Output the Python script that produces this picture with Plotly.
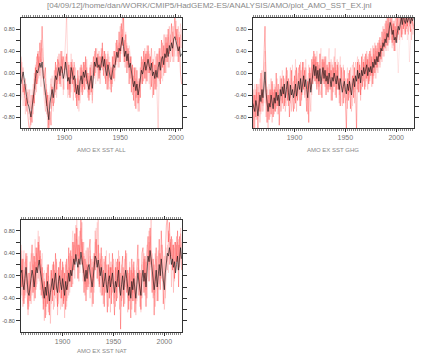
import plotly.graph_objects as go

# ---------------- data ----------------
years_all = list(range(1861, 2006))   # 145 values
years_ext = list(range(1859, 2018))   # 159 values

all_mean = [
 -0.20, -0.05, 0.02, -0.12, -0.30, -0.42, -0.55, -0.60, -0.72, -0.80,
 -0.62, -0.50, -0.30, -0.10, 0.05, 0.00, 0.12, 0.18, 0.10, 0.20,
 -0.05, -0.22, -0.35, -0.45, -0.70, -0.85, -0.55, -0.40, -0.30, -0.45,
 -0.20, -0.05, -0.12, 0.02, 0.10, -0.05, 0.12, 0.05, -0.10, 0.00,
 0.20, 0.05, -0.15, -0.08, -0.20, 0.10, 0.02, -0.12, -0.05, -0.25,
 -0.38, -0.22, -0.40, -0.15, -0.05, -0.20, 0.02, -0.08, 0.05, -0.10,
 -0.22, -0.30, -0.15, -0.05, -0.28, 0.05, 0.20, 0.12, 0.28, 0.10,
 0.15, 0.05, 0.22, 0.30, 0.12, 0.25, 0.05, -0.05, 0.15, 0.00,
 -0.08, -0.12, 0.05, 0.15, 0.10, 0.30, 0.38, 0.28, 0.45, 0.40,
 0.55, 0.65, 0.48, 0.30, 0.40, 0.22, 0.35, 0.10, 0.18, 0.05,
 -0.10, -0.25, -0.15, -0.32, -0.20, -0.40, -0.28, -0.10, 0.05, -0.02,
 0.10, 0.20, 0.05, 0.15, 0.25, 0.12, 0.05, 0.18, -0.05, 0.02,
 -0.10, 0.05, -0.08, 0.10, 0.20, 0.05, 0.25, 0.30, 0.15, 0.35,
 0.28, 0.45, 0.30, 0.50, 0.40, 0.55, 0.45, 0.62, 0.66, 0.58,
 0.50, 0.40, 0.48, 0.30, 0.35]

all_m1 = [
 0.30, -0.10, -0.35, -0.20, -0.60, -0.45, -0.80, -0.95, -1.05, -0.70,
 -0.90, -0.40, -0.55, 0.10, -0.20, 0.35, 0.10, 0.55, 0.20, 0.85,
 0.30, -0.10, 0.10, -0.60, -0.40, -1.10, -0.70, -0.95, -0.25, -0.60,
 -0.40, 0.20, -0.30, 0.25, 0.15, -0.20, 0.40, 0.00, 0.30, 0.05,
 0.10, 0.35, -0.30, 0.15, -0.45, 0.20, -0.20, 0.10, -0.35, -0.10,
 -0.60, 0.05, -0.50, -0.25, 0.15, -0.40, 0.20, -0.30, 0.30, -0.20,
 0.00, -0.50, 0.10, -0.35, -0.10, 0.30, -0.05, 0.45, 0.10, 0.35,
 -0.10, 0.30, 0.10, 0.55, -0.05, 0.40, -0.20, 0.25, -0.30, 0.20,
 0.10, -0.35, 0.30, -0.10, 0.40, 0.15, 0.60, 0.30, 0.75, 0.20,
 0.90, 0.50, 1.05, 0.20, 0.70, 0.00, 0.45, -0.20, 0.30, -0.35,
 0.15, -0.50, 0.10, -0.65, 0.05, -0.55, -0.10, -0.45, 0.30, -0.20,
 0.40, -0.10, 0.35, -0.15, 0.50, 0.00, 0.30, -0.25, 0.20, -0.40,
 0.15, -0.30, 0.35, -0.10, 0.45, -0.20, 0.60, 0.10, 0.50, 0.00,
 0.65, 0.20, 0.80, 0.35, 0.55, 0.90, 0.30, 0.75, 1.05, 0.60,
 0.80, 0.20, 0.65, 0.00, -0.20]

all_m2 = [
 -0.50, -0.30, 0.10, -0.40, -0.10, -0.70, -0.35, -0.55, -0.30, -0.95,
 -0.40, -0.75, 0.00, -0.30, 0.30, -0.20, 0.40, -0.05, 0.60, 0.10,
 -0.20, -0.50, -0.70, -0.30, -1.05, -0.60, -0.35, -0.10, -0.55, -0.15,
 0.05, -0.35, 0.10, -0.20, 0.35, 0.05, -0.25, 0.30, -0.30, 0.15,
 0.60, 1.05, 0.10, -0.40, 0.05, -0.10, 0.25, -0.50, 0.20, -0.45,
 -0.20, -0.65, -0.15, 0.10, -0.35, 0.05, -0.25, 0.20, -0.15, 0.10,
 -0.45, -0.05, -0.40, 0.20, -0.55, -0.10, 0.40, 0.00, 0.25, -0.15,
 0.40, -0.20, 0.45, 0.05, 0.30, 0.10, 0.35, -0.30, 0.35, -0.25,
 -0.30, 0.10, -0.20, 0.40, -0.10, 0.55, 0.20, 0.45, 0.10, 0.85,
 0.40, 1.05, 0.30, 0.60, 0.10, 0.50, 0.15, 0.40, -0.10, 0.30,
 -0.40, -0.05, -0.60, 0.10, -0.45, -0.15, -0.70, 0.10, -0.20, 0.25,
 -0.15, 0.45, -0.20, 0.40, 0.00, 0.35, -0.30, 0.45, -0.45, 0.25,
 -0.30, 0.30, -0.40, -1.05, 0.00, 0.30, -0.10, 0.55, -0.05, 0.70,
 0.00, 0.70, 0.10, 0.85, 0.20, 0.40, 0.75, 0.20, 0.50, 0.95,
 0.30, 0.85, 0.40, 0.70, 0.45]

all_m3 = [
 0.10, -0.40, -0.60, -0.25, -0.75, -0.20, -0.60, -0.30, -0.85, -0.40,
 -0.65, -0.20, -0.60, 0.15, -0.35, 0.40, -0.10, 0.30, -0.25, 0.45,
 0.10, -0.40, -0.10, -0.75, -0.35, -0.95, -0.45, -0.65, -0.05, -0.40,
 -0.55, 0.10, -0.45, 0.30, -0.15, 0.35, -0.10, 0.40, -0.40, 0.20,
 -0.10, 0.30, -0.45, 0.20, -0.30, 0.35, -0.05, 0.20, -0.35, 0.10,
 -0.50, -0.10, -0.70, -0.40, 0.10, -0.30, -0.15, 0.15, -0.30, 0.25,
 -0.10, -0.40, 0.15, -0.25, -0.50, 0.20, -0.10, 0.30, 0.45, 0.05,
 0.30, 0.00, 0.10, 0.45, 0.20, -0.10, 0.30, 0.10, 0.40, -0.15,
 0.20, -0.20, 0.15, 0.30, -0.15, 0.40, 0.60, 0.10, 0.55, 0.35,
 0.70, 0.40, 0.20, 0.55, 0.75, 0.30, 0.10, 0.50, 0.35, -0.10,
 -0.20, 0.10, -0.35, -0.10, -0.55, -0.70, -0.40, -0.20, -0.05, 0.20,
 0.00, 0.30, -0.10, 0.50, 0.10, -0.20, 0.25, 0.45, 0.10, 0.30,
 0.40, -0.10, 0.20, 0.35, -0.15, 0.45, 0.05, 0.40, 0.70, 0.20,
 0.55, 0.30, 0.65, 0.10, 0.70, 0.45, 0.85, 0.50, 0.30, 0.80,
 0.55, 0.70, 0.20, 0.90, 0.60]

all_m4 = [
 -0.30, 0.20, -0.10, -0.45, -0.20, -0.60, -0.30, -0.75, -0.50, -0.65,
 -0.30, -0.55, -0.10, -0.40, 0.20, -0.15, 0.30, 0.00, 0.25, -0.10,
 0.05, -0.30, -0.55, -0.20, -0.80, -0.40, -0.65, -0.20, -0.45, -0.70,
 -0.10, -0.40, 0.15, -0.30, 0.20, -0.25, 0.05, 0.25, -0.15, -0.30,
 0.30, -0.05, 0.20, -0.30, 0.10, -0.35, 0.15, -0.25, 0.15, -0.40,
 -0.25, -0.45, -0.05, -0.55, -0.20, 0.10, -0.35, -0.05, 0.20, -0.30,
 -0.35, 0.00, -0.25, 0.15, -0.40, -0.15, 0.35, -0.20, 0.10, 0.30,
 -0.05, 0.25, 0.35, 0.10, 0.40, 0.15, -0.15, 0.20, -0.10, 0.30,
 -0.20, 0.05, -0.25, 0.20, 0.35, 0.05, 0.25, 0.50, 0.20, 0.45,
 0.35, 0.80, 0.45, 0.10, 0.30, 0.55, 0.40, 0.05, 0.25, 0.15,
 -0.05, -0.30, 0.05, -0.45, -0.30, -0.20, -0.50, 0.05, 0.20, -0.15,
 0.25, 0.05, 0.40, 0.20, 0.35, 0.40, -0.05, 0.10, 0.25, -0.10,
 -0.20, 0.15, -0.25, 0.25, 0.40, 0.10, 0.30, -0.15, 0.25, 0.45,
 0.30, 0.55, 0.20, 0.40, 0.60, 0.35, 0.20, 0.85, 0.65, 0.40,
 0.65, 0.35, 0.75, 0.45, 0.80]

ghg_mean = [
 -0.55, -0.62, -0.70, -0.50, -0.60, -0.78, -0.55, -0.40, -0.52, -0.30,
 -0.45, -0.10, 0.02, -0.35, -0.60, -0.70, -0.55, -0.62, -0.40, -0.58,
 -0.65, -0.45, -0.55, -0.35, -0.50, -0.40, -0.60, -0.30, -0.42, -0.25,
 -0.38, -0.20, -0.45, -0.30, -0.15, -0.35, -0.50, -0.22, -0.40, -0.30,
 -0.45, -0.35, -0.20, -0.42, -0.28, -0.15, -0.30, -0.10, -0.35, -0.20,
 -0.05, -0.25, -0.12, -0.30, -0.45, -0.20, -0.10, -0.35, -0.15, 0.05,
 0.15, -0.05, 0.12, -0.10, 0.05, -0.15, 0.08, -0.20, -0.05, 0.10,
 -0.10, 0.05, -0.15, -0.05, -0.20, 0.00, -0.12, -0.25, -0.08, -0.15,
 0.00, -0.10, -0.20, -0.05, -0.15, -0.30, -0.10, -0.20, -0.35, -0.25,
 -0.15, -0.30, -0.38, -0.20, -0.32, -0.15, -0.25, -0.40, -0.22, -0.10,
 -0.25, -0.05, -0.15, 0.05, -0.10, 0.00, -0.18, 0.05, -0.05, 0.10,
 -0.02, 0.05, 0.15, -0.05, 0.10, 0.02, 0.12, 0.00, 0.20, 0.10,
 0.25, 0.15, 0.30, 0.20, 0.38, 0.30, 0.45, 0.40, 0.55, 0.48,
 0.62, 0.55, 0.72, 0.65, 0.80, 0.92, 0.85, 0.70, 0.78, 0.60,
 0.65, 0.55, 0.72, 0.85, 0.78, 0.92, 1.00, 0.88, 1.05, 0.95,
 0.90, 1.02, 0.92, 0.98, 1.05, 0.90, 1.00, 0.95, 1.02]

ghg_m1 = [
 -0.30, -1.05, -0.40, -0.80, -0.20, -1.05, -0.35, -0.70, 0.00, -0.55,
 -0.20, 0.20, 0.85, -0.10, -0.90, -0.40, -0.85, -0.30, -0.75, -0.15,
 -0.80, -0.30, -0.70, 0.00, -0.60, -0.20, -0.95, -0.40, -0.10, -0.55,
 -0.05, -0.60, -0.20, 0.10, -0.50, -0.10, -0.80, -0.30, 0.05, -0.45,
 -0.70, -0.05, -0.55, 0.10, -0.50, -0.20, 0.15, -0.60, -0.35, 0.20,
 -0.30, 0.05, -0.45, -0.70, -0.15, -0.90, 0.10, -0.30, 0.25, -0.20,
 0.40, -0.15, 0.30, -0.30, 0.20, -0.40, 0.35, -0.10, -0.45, 0.25,
 -0.20, 0.30, -0.40, 0.15, -0.35, 0.20, -0.30, 0.05, -0.50, 0.10,
 -0.25, 0.20, -0.45, 0.15, -0.30, -0.10, -0.60, 0.10, -0.20, -0.55,
 0.05, -0.40, -1.05, -0.10, -0.50, 0.05, -0.65, -0.20, -0.05, -0.45,
 0.10, -0.30, -1.05, 0.20, -0.35, 0.15, -0.40, 0.30, -0.25, 0.20,
 -0.30, 0.35, -0.10, 0.25, -0.20, 0.40, -0.05, 0.30, -0.20, 0.45,
 0.00, 0.50, 0.10, 0.55, 0.20, 0.65, 0.25, 0.75, 0.40, 0.80,
 0.45, 0.95, 0.50, 1.05, 0.60, 0.85, 1.05, 0.55, 0.90, 0.40,
 0.85, 0.60, 1.05, 0.70, 0.95, 1.05, 0.65, 1.05, 0.80, 1.05,
 0.70, 1.05, 0.85, 1.05, 0.95, 0.75, 1.05, 0.90, 0.80]

ghg_m2 = [
 -0.80, -0.40, -1.00, -0.30, -0.85, -0.45, -0.20, -0.90, -0.60, 0.05,
 -0.70, -0.35, -0.15, -0.80, -0.30, -1.00, -0.40, -0.65, -0.10, -0.90,
 -0.35, -0.75, -0.25, -0.65, -0.30, -0.75, -0.25, -0.05, -0.70, -0.30,
 -0.65, -0.10, -0.70, -0.40, 0.05, -0.60, -0.30, 0.10, -0.70, -0.20,
 -0.15, -0.65, 0.05, -0.70, -0.10, 0.10, -0.60, 0.20, -0.50, -0.05,
 0.20, -0.45, 0.10, -0.20, -0.75, 0.00, -0.35, -0.70, -0.05, 0.30,
 -0.10, 0.35, -0.15, 0.20, -0.20, 0.15, -0.30, -0.40, 0.25, -0.15,
 0.20, -0.25, 0.05, -0.30, 0.10, -0.25, 0.20, -0.50, 0.15, -0.35,
 0.30, -0.40, 0.05, -0.30, 0.20, -0.55, 0.15, -0.45, -0.60, 0.10,
 -0.45, -0.10, -0.20, -0.65, 0.00, -0.35, 0.10, -0.70, -0.40, 0.20,
 -0.55, 0.20, 0.05, -0.30, 0.25, -0.20, -0.50, 0.10, 0.35, -0.15,
 0.30, -0.25, 0.40, -0.30, 0.35, -0.15, 0.45, -0.25, 0.50, -0.05,
 0.55, -0.10, 0.45, 0.00, 0.60, 0.10, 0.50, 0.20, 0.85, 0.30,
 0.90, 0.40, 1.00, 0.50, 1.05, 0.70, 0.60, 1.05, 0.50, 0.95,
 0.40, 1.00, 0.55, 1.05, 0.60, 0.90, 1.05, 0.70, 1.05, 0.85,
 1.05, 0.80, 1.05, 0.70, 1.05, 0.95, 0.60, 1.05, 0.85]

ghg_m3 = [
 -0.40, -0.70, -0.20, -0.60, -0.35, -0.50, -0.80, -0.10, -0.45, -0.70,
 -0.30, -0.55, 0.40, -0.20, -0.45, -0.60, -0.20, -0.80, -0.50, -0.30,
 -0.55, -0.20, -0.70, -0.40, -0.10, -0.60, -0.45, -0.70, -0.25, 0.05,
 -0.40, -0.25, -0.55, -0.05, -0.35, -0.60, -0.15, -0.45, -0.25, 0.15,
 -0.40, -0.20, 0.25, -0.45, -0.30, 0.00, -0.20, 0.05, -0.40, 0.10,
 -0.15, -0.40, 0.25, 0.00, -0.30, 0.15, -0.20, 0.00, -0.40, 0.20,
 0.05, 0.25, -0.20, 0.40, 0.00, -0.25, 0.20, 0.45, -0.10, 0.30,
 0.05, -0.20, 0.30, -0.15, 0.20, 0.45, -0.05, 0.25, 0.05, -0.25,
 0.20, 0.45, -0.10, 0.25, -0.20, 0.05, 0.30, -0.15, -0.05, 0.15,
 -0.20, -0.55, -0.20, 0.10, -0.40, -0.15, -0.35, 0.05, 0.15, -0.30,
 -0.05, -0.25, 0.10, 0.30, -0.20, 0.20, 0.00, -0.30, 0.10, 0.25,
 0.00, 0.20, -0.15, 0.30, 0.15, -0.10, 0.35, 0.15, -0.05, 0.35,
 0.15, 0.40, 0.35, 0.10, 0.45, 0.55, 0.35, 0.60, 0.45, 0.70,
 0.75, 0.60, 0.85, 0.90, 0.55, 1.05, 0.75, 0.45, 0.95, 0.70,
 1.00, 0.75, 0.65, 0.95, 1.05, 0.80, 0.95, 1.05, 0.90, 0.70,
 0.95, 1.05, 0.75, 1.05, 0.85, 1.05, 0.90, 1.05, 0.70]

ghg_m4 = [
 -0.60, -0.30, -0.55, -0.85, -0.45, -0.25, -0.65, -0.40, -0.75, -0.35,
 -0.60, -0.20, 0.20, -0.55, -0.25, -0.50, -0.70, -0.35, -0.60, -0.20,
 -0.45, -0.60, -0.30, -0.50, -0.75, -0.35, -0.55, -0.25, -0.50, -0.35,
 -0.20, -0.45, -0.35, -0.60, -0.25, -0.40, -0.20, -0.55, -0.10, -0.35,
 -0.25, -0.50, -0.30, -0.10, -0.40, -0.25, -0.50, -0.15, 0.05, -0.40,
 -0.25, 0.10, -0.20, -0.50, -0.10, -0.35, 0.05, -0.20, 0.10, -0.10,
 0.25, 0.00, 0.20, -0.25, 0.10, 0.00, -0.20, 0.10, 0.20, -0.05,
 0.15, 0.25, -0.05, 0.10, -0.30, -0.05, 0.15, -0.10, 0.20, 0.00,
 -0.10, 0.10, -0.30, -0.15, 0.10, -0.40, -0.20, 0.05, -0.30, -0.10,
 -0.35, -0.20, -0.50, -0.30, -0.10, -0.45, -0.20, -0.35, -0.60, -0.05,
 -0.35, -0.10, -0.30, 0.00, -0.15, -0.35, 0.10, -0.10, 0.20, 0.00,
 0.15, -0.10, 0.25, 0.05, -0.20, 0.20, 0.00, 0.25, 0.10, -0.10,
 0.30, 0.20, 0.05, 0.40, 0.25, 0.15, 0.50, 0.35, 0.30, 0.60,
 0.50, 0.70, 0.60, 0.40, 0.85, 0.70, 0.95, 0.80, 0.65, 0.90,
 0.55, 0.80, 0.30, 0.00, 0.45, 0.70, 0.85, 0.60, 0.95, 0.80,
 0.75, 0.95, 0.60, 0.85, 0.20, 0.55, 0.80, 0.70, 0.90]

nat_mean = [
 0.05, 0.10, -0.15, -0.25, -0.05, 0.15, -0.05, -0.30, -0.35, -0.15,
 -0.05, 0.10, 0.00, -0.20, -0.05, 0.15, 0.05, 0.20, 0.28, 0.10,
 -0.05, -0.15, -0.30, -0.40, -0.20, -0.35, -0.10, -0.25, -0.45, -0.30,
 -0.15, -0.05, -0.25, -0.10, 0.05, -0.20, -0.30, -0.10, 0.00, -0.15,
 -0.25, -0.05, -0.20, -0.35, -0.10, -0.25, -0.15, 0.05, -0.10, 0.10,
 0.00, 0.15, 0.30, 0.20, 0.38, 0.25, 0.15, 0.30, 0.20, 0.42,
 0.30, 0.15, 0.00, -0.10, 0.10, -0.05, 0.15, 0.20, 0.05, -0.10,
 -0.20, -0.05, 0.10, 0.35, 0.30, 0.15, 0.28, 0.10, 0.00, 0.15,
 -0.05, -0.20, -0.10, 0.05, -0.15, -0.30, -0.10, 0.00, -0.20, -0.10,
 0.05, -0.15, -0.30, -0.10, -0.20, -0.05, 0.10, -0.20, -0.35, -0.15,
 0.00, -0.25, -0.10, 0.10, -0.05, -0.25, -0.35, -0.20, -0.40, -0.10,
 -0.25, -0.05, -0.30, -0.40, -0.15, 0.05, -0.10, -0.25, -0.35, -0.05,
 0.10, -0.10, 0.05, -0.20, 0.15, 0.35, 0.25, 0.45, 0.30, 0.10,
 -0.05, -0.25, -0.10, 0.10, -0.20, 0.05, 0.20, 0.00, 0.30, 0.10,
 -0.15, -0.25, 0.05, 0.20, 0.40, 0.35, 0.50, 0.38, 0.20, 0.30,
 0.15, 0.25, 0.05, 0.20, 0.35, 0.10, 0.40, 0.50, 0.30]

nat_m1 = [
 0.55, -0.20, 0.30, -0.50, 0.10, 0.40, -0.30, -0.60, 0.05, -0.45,
 0.20, 0.55, -0.30, 0.35, -0.40, 0.50, 0.10, 0.60, 0.20, 0.45,
 -0.35, 0.15, -0.60, -0.10, -0.75, 0.05, -0.50, 0.20, -0.70, -0.25,
 0.10, -0.45, 0.25, -0.35, 0.40, -0.20, -0.55, 0.15, -0.30, 0.30,
 -0.40, 0.25, -0.50, 0.05, -0.60, 0.30, -0.25, 0.50, -0.10, 0.45,
 -0.20, 0.60, 0.10, 0.75, 0.25, 0.85, -0.05, 0.55, 0.30, 1.05,
 0.20, 0.60, -0.30, 0.30, -0.45, 0.20, -0.20, 0.45, 0.65, -0.30,
 0.15, -0.50, 0.40, 0.10, 0.65, -0.05, 0.55, -0.20, 0.35, 0.50,
 -0.35, 0.10, -0.55, 0.35, -0.10, -0.65, 0.20, -0.40, 0.15, -0.50,
 0.40, -0.25, -0.70, 0.15, -0.45, 0.30, -0.20, 0.25, -0.95, 0.10,
 0.35, -0.55, 0.20, 0.45, -0.30, 0.10, -0.60, 0.15, -0.75, 0.30,
 -0.45, 0.25, -0.65, -0.20, 0.30, 0.55, -0.35, 0.10, -0.60, 0.40,
 0.50, -0.30, 0.35, -0.55, 0.40, 0.70, -0.10, 0.85, 0.25, -0.30,
 0.30, -0.70, 0.15, 0.50, -0.45, 0.35, 0.65, -0.25, 0.80, 0.30,
 -0.50, -0.10, 0.55, 0.90, 1.05, 0.60, 0.95, 0.30, 0.70, 0.10,
 0.55, -0.05, 0.60, 0.25, 0.80, -0.20, 0.70, 0.40, 0.10]

nat_m2 = [
 -0.40, 0.30, -0.55, 0.10, -0.35, -0.10, 0.35, -0.70, -0.20, 0.25,
 -0.50, -0.10, 0.40, -0.45, 0.25, -0.20, 0.50, -0.05, 0.70, -0.25,
 0.30, -0.40, 0.05, -0.80, -0.20, -0.55, 0.20, -0.65, -0.15, -0.85,
 -0.35, 0.20, -0.60, 0.10, -0.25, 0.30, -0.70, -0.20, 0.25, -0.40,
 0.10, -0.55, 0.15, -0.75, 0.20, -0.45, 0.10, -0.35, 0.40, -0.20,
 0.35, -0.15, 0.60, -0.05, 0.90, 0.30, 0.55, -0.10, 0.80, 0.40,
 0.95, 0.05, 0.35, -0.35, 0.45, -0.25, 0.50, -0.05, -0.40, 0.30,
 -0.55, 0.25, -0.20, 0.80, 0.20, 0.45, 1.05, -0.15, 0.30, -0.35,
 0.35, -0.50, 0.25, -0.30, 0.20, -0.05, -0.55, 0.40, -0.65, 0.15,
 -0.30, 0.30, 0.00, -0.55, 0.25, -0.40, 0.45, -0.60, 0.05, -0.45,
 -0.25, 0.15, -0.50, -0.15, 0.40, -0.65, 0.05, -0.45, 0.10, -0.60,
 0.05, -0.45, 0.10, -0.70, -0.35, -0.10, 0.30, -0.55, 0.05, -0.40,
 -0.20, 0.30, -0.35, 0.25, -0.40, 0.10, 0.80, 0.20, 1.05, -0.10,
 -0.40, 0.20, -0.55, -0.05, 0.35, -0.45, -0.10, 0.40, -0.05, 0.55,
 0.20, -0.60, -0.30, 0.35, 0.10, 0.80, 0.20, 0.65, -0.20, 0.55,
 -0.30, 0.60, 0.10, 0.70, 0.25, 0.55, 0.15, 0.75, 0.50]

nat_m3 = [
 0.20, -0.35, 0.10, 0.45, -0.40, 0.30, -0.15, 0.05, -0.55, 0.15,
 0.40, -0.30, 0.20, -0.15, 0.65, -0.25, 0.30, 0.80, -0.10, 0.35,
 0.00, 0.40, -0.35, -0.05, -0.55, -0.20, 0.15, -0.40, -0.60, 0.10,
 -0.50, -0.15, 0.20, -0.55, -0.10, 0.25, -0.45, 0.05, -0.30, -0.60,
 -0.20, 0.15, -0.45, -0.20, 0.25, -0.55, 0.05, 0.35, -0.30, 0.05,
 0.25, 0.80, 0.45, 0.15, 0.60, 1.05, 0.35, 0.70, 0.05, 0.50,
 0.65, -0.10, 0.40, 0.25, -0.20, 0.50, 0.10, -0.15, 0.35, 0.15,
 0.30, 0.00, -0.30, 0.50, 0.85, 0.25, -0.10, 0.40, -0.30, 0.20,
 0.10, 0.30, -0.35, -0.15, 0.45, -0.20, 0.10, -0.30, 0.25, -0.35,
 0.20, -0.50, 0.10, 0.30, -0.30, 0.15, -0.10, 0.35, -0.25, -0.55,
 0.15, -0.35, 0.30, -0.20, 0.05, -0.40, -0.15, 0.25, -0.35, 0.10,
 -0.30, 0.15, -0.20, -0.50, 0.05, 0.30, 0.10, -0.35, -0.65, 0.20,
 -0.10, 0.40, -0.15, -0.05, 0.55, 0.25, 0.60, 0.10, 0.45, 0.35,
 0.15, -0.35, 0.40, -0.20, 0.10, 0.45, -0.15, 0.30, 0.55, -0.10,
 0.05, 0.35, -0.40, 0.15, 0.55, 0.05, 0.75, 0.50, 0.35, 0.65,
 0.40, -0.10, 0.35, 0.55, 0.10, 0.65, 0.30, 0.85, 0.20]

nat_m4 = [
 -0.20, 0.45, -0.45, -0.10, 0.25, -0.30, 0.40, -0.50, -0.10, -0.40,
 0.10, -0.35, -0.05, 0.35, -0.25, 0.40, -0.15, 0.25, 0.55, 0.05,
 0.20, -0.25, -0.50, 0.10, -0.30, -0.70, -0.35, 0.00, -0.45, -0.20,
 0.05, -0.30, -0.15, 0.20, -0.40, -0.05, 0.10, -0.50, 0.15, -0.20,
 -0.55, -0.10, 0.20, -0.40, -0.15, 0.00, -0.40, 0.15, -0.20, 0.30,
 0.10, 0.35, 0.55, 0.40, 0.20, 0.65, 0.45, 0.20, 0.60, 0.85,
 0.45, 0.20, 0.60, -0.15, 0.25, 0.10, -0.25, 0.30, 0.45, 0.00,
 -0.10, 0.35, 0.15, 0.60, 0.40, 0.95, 0.50, 0.20, 0.05, 0.40,
 -0.20, 0.00, 0.30, 0.10, -0.30, 0.20, -0.15, 0.15, -0.10, 0.25,
 -0.15, 0.10, -0.40, -0.05, 0.15, -0.20, 0.25, -0.30, -0.10, 0.20,
 -0.40, 0.05, -0.25, 0.35, 0.10, -0.15, -0.45, 0.00, -0.20, -0.35,
 0.20, -0.20, -0.40, 0.00, -0.45, 0.15, -0.25, 0.05, -0.15, -0.30,
 0.25, 0.05, 0.30, -0.25, 0.20, 0.45, 0.35, 0.70, 0.15, 0.40,
 0.25, 0.05, -0.30, 0.30, 0.00, -0.25, 0.40, 0.10, 0.20, 0.45,
 0.30, -0.20, 0.10, 0.50, 0.25, 0.45, 0.20, 0.60, 0.40, 0.15,
 0.30, 0.50, 0.20, 0.45, 0.60, 0.35, 0.55, 0.30, 0.60]

title_text = "[04/09/12]/home/dan/WORK/CMIP5/HadGEM2-ES/ANALYSIS/AMO/plot_AMO_SST_EX.jnl"
panel_labels = ["AMO EX SST ALL", "AMO EX SST GHG", "AMO EX SST NAT"]
y_tick_vals = [-0.8, -0.6, -0.4, -0.2, 0.0, 0.2, 0.4, 0.6, 0.8]
y_tick_text = ["-0.80", "", "-0.40", "", "0.00", "", "0.40", "", "0.80"]
x_tick_vals = [1900, 1950, 2000]

for arr in (all_mean, all_m1, all_m2, all_m3, all_m4):
    assert len(arr) == len(years_all), len(arr)
for arr in (ghg_mean, ghg_m1, ghg_m2, ghg_m3, ghg_m4, nat_mean, nat_m1, nat_m2, nat_m3, nat_m4):
    assert len(arr) == len(years_ext), len(arr)

# ---------------- figure ----------------
W, H = 421, 354
member_colors = ["rgba(255,150,150,0.35)", "rgba(255,120,120,0.35)",
                 "rgba(255,90,90,0.40)", "rgba(255,20,20,0.55)"]

panels = [
    ("x", "y", years_all, all_mean, [all_m4, all_m3, all_m2, all_m1]),
    ("x2", "y2", years_ext, ghg_mean, [ghg_m4, ghg_m3, ghg_m2, ghg_m1]),
    ("x3", "y3", years_ext, nat_mean, [nat_m4, nat_m3, nat_m2, nat_m1]),
]

fig = go.Figure()
for xa, ya, yrs, mean, members in panels:
    for col, mem in zip(member_colors, members):
        fig.add_trace(go.Scatter(x=yrs, y=mem, mode="lines", xaxis=xa, yaxis=ya,
                                 line=dict(color=col, width=0.6), showlegend=False,
                                 hoverinfo="skip"))
    fig.add_trace(go.Scatter(x=yrs, y=mean, mode="lines", xaxis=xa, yaxis=ya,
                             line=dict(color="rgba(20,20,20,0.8)", width=0.8), showlegend=False,
                             hoverinfo="skip"))

# pixel boxes: (left, right, top, bottom)
boxes = [(21, 183, 18, 128), (254, 416, 18, 128), (21, 183, 219.5, 332)]
xranges = [[1861, 2005.5], [1859, 2017.5], [1859, 2017.5]]

def xdom(l, r):
    return [l / W, r / W]

def ydom(t, b):
    return [1 - b / H, 1 - t / H]

axis_font = dict(family="Liberation Sans, Arial, sans-serif", size=7, color="#777777")
yfont = dict(family="Liberation Sans, Arial, sans-serif", size=5.5, color="#555555")

layout = dict(width=W, height=H, margin=dict(l=0, r=0, t=0, b=0),
              paper_bgcolor="white", plot_bgcolor="white")
for i, ((l, r, t, b), xr) in enumerate(zip(boxes, xranges)):
    sfx = "" if i == 0 else str(i + 1)
    layout["xaxis" + sfx] = dict(
        domain=xdom(l, r), range=xr, anchor="y" + sfx,
        tickvals=x_tick_vals, ticks="outside", ticklen=3, tickwidth=1, tickcolor="#333",
        showline=True, linecolor="#333", linewidth=1, mirror="ticks",
        showgrid=False, zeroline=False, tickfont=axis_font,
        minor=dict(dtick=2, tick0=1860, ticks="outside", ticklen=2, tickcolor="#888", showgrid=False),
    )
    layout["yaxis" + sfx] = dict(
        domain=ydom(t, b), range=[-1, 1], anchor="x" + sfx,
        tickvals=y_tick_vals, ticktext=y_tick_text, ticks="outside", ticklen=4,
        tickwidth=1, tickcolor="#333",
        showline=True, linecolor="#333", linewidth=1, mirror="ticks",
        showgrid=False, zeroline=False, tickfont=yfont,
    )
fig.update_layout(**layout)

label_font = dict(family="Liberation Sans, Arial, sans-serif", size=6, color="#888888")
fig.add_annotation(text=title_text, x=0.5, y=1 - 5 / H, xref="paper", yref="paper",
                   showarrow=False, xanchor="center", yanchor="middle",
                   font=dict(family="Liberation Sans, Arial, sans-serif", size=8, color="#888888"))
label_y = [150, 150, 351]
for (l, r, t, b), lab, ly in zip(boxes, panel_labels, label_y):
    fig.add_annotation(text=lab, x=(l + r) / 2 / W, y=1 - ly / H, xref="paper", yref="paper",
                       showarrow=False, xanchor="center", yanchor="middle", font=label_font)

fig.write_html("out.html")
